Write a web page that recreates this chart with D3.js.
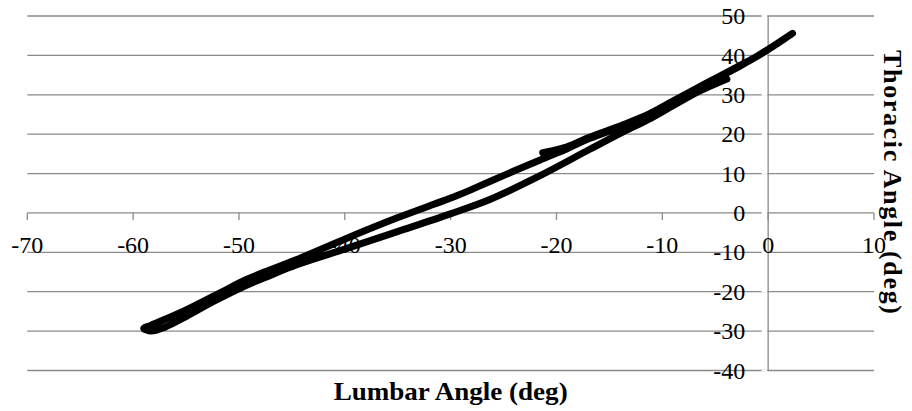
<!DOCTYPE html>
<html>
<head>
<meta charset="utf-8">
<script src="https://cdn.jsdelivr.net/npm/d3@7/dist/d3.min.js"></script>
<style>
  html, body { margin: 0; padding: 0; background: #fff; }
  svg { display: block; }
  text { font-family: "Liberation Serif", "Times New Roman", serif; fill: #000; }
</style>
</head>
<body>
<svg id="chart" width="912" height="411"></svg>
<script>
// ---- data ----
const xTicks = [-70, -60, -50, -40, -30, -20, -10, 0, 10];
const yTicks = [-40, -30, -20, -10, 0, 10, 20, 30, 40, 50];
const xTitle = "Lumbar Angle (deg)";
const yTitle = "Thoracic Angle (deg)";
// Lumbar angle (x) and thoracic angle (y) along the recorded trace
const lumbar = [-21.3, -19.0, -16.9, -13.7, -11.2, -9.0, -5.8, -2.7, -1.1, 0.5, 2.3,
  0.4, -1.2, -2.8, -5.9, -9.1, -11.3, -13.8, -16.9, -19.0, -21.6, -26.3, -29.2,
  -35.1, -39.8, -44.6, -49.3, -51.8, -54.9, -56.8, -58.4, -59.0,
  -58.3, -57.0, -55.0, -52.5, -49.5, -47.0, -44.6, -39.8, -35.1, -30.1, -26.3,
  -21.6, -16.9, -13.7, -11.2, -9.0, -6.5, -3.9];
const thoracic = [15.3, 16.8, 19.2, 22.4, 25.2, 28.4, 33.0, 37.4, 39.7, 42.4, 45.6,
  42.2, 39.5, 37.1, 32.7, 28.1, 24.9, 22.0, 18.9, 16.3, 13.4, 8.0, 4.6,
  -1.3, -6.4, -11.9, -16.9, -20.3, -24.5, -26.8, -28.6, -29.3,
  -30.0, -29.0, -26.3, -22.6, -18.6, -15.8, -13.2, -9.0, -4.8, -0.3, 3.4,
  9.4, 16.1, 20.6, 23.9, 27.2, 30.9, 34.0];

// ---- chart ----
const svg = d3.select("#chart");
const x = d3.scaleLinear().domain([-70, 10]).range([27.3, 874]);
const y = d3.scaleLinear().domain([-40, 50]).range([370.5, 16]);
const gridColor = "#8a8a8a";

// horizontal gridlines
svg.append("g").selectAll("line").data(yTicks).join("line")
  .attr("x1", x(-70)).attr("x2", x(10))
  .attr("y1", d => y(d)).attr("y2", d => y(d))
  .attr("stroke", gridColor).attr("stroke-width", 1.3);

// vertical axis line at x = 0
svg.append("line")
  .attr("x1", x(0)).attr("x2", x(0))
  .attr("y1", y(50)).attr("y2", y(-40))
  .attr("stroke", gridColor).attr("stroke-width", 1.3);

// small white gaps just left of the vertical axis (tick marks)
svg.append("g").selectAll("line").data(yTicks).join("line")
  .attr("x1", x(0) - 6.5).attr("x2", x(0) - 1)
  .attr("y1", d => y(d)).attr("y2", d => y(d))
  .attr("stroke", "#fff").attr("stroke-width", 2);

// x axis tick marks (down from the y = 0 line)
svg.append("g").selectAll("line").data(xTicks).join("line")
  .attr("x1", d => x(d)).attr("x2", d => x(d))
  .attr("y1", y(0)).attr("y2", y(0) + 7)
  .attr("stroke", gridColor).attr("stroke-width", 1.3);

// x tick labels
svg.append("g").selectAll("text").data(xTicks).join("text")
  .attr("x", d => x(d)).attr("y", y(0) + 40)
  .attr("text-anchor", "middle")
  .style("font-size", "24px")
  .text(d => d);

// y tick labels
svg.append("g").selectAll("text").data(yTicks).join("text")
  .attr("x", x(0) - 23).attr("y", d => y(d))
  .attr("dy", "0.34em")
  .attr("text-anchor", "end")
  .style("font-size", "24px")
  .text(d => d);

// data trace
const pts = lumbar.map((v, i) => [v, thoracic[i]]);
svg.append("path")
  .datum(pts)
  .attr("d", d3.line().x(d => x(d[0])).y(d => y(d[1])).curve(d3.curveCatmullRom.alpha(0.5)))
  .attr("fill", "none")
  .attr("stroke", "#000")
  .attr("stroke-width", 7)
  .attr("stroke-linejoin", "round")
  .attr("stroke-linecap", "round");

// axis titles
svg.append("text")
  .attr("x", (x(-70) + x(10)) / 2).attr("y", 400)
  .attr("text-anchor", "middle")
  .attr("textLength", 234).attr("lengthAdjust", "spacingAndGlyphs")
  .style("font-size", "26px").style("font-weight", "bold")
  .text(xTitle);

svg.append("text")
  .attr("transform", "translate(884,182) rotate(90)")
  .attr("text-anchor", "middle")
  .attr("textLength", 264).attr("lengthAdjust", "spacing")
  .style("font-size", "26px").style("font-weight", "bold")
  .text(yTitle);
</script>
</body>
</html>
